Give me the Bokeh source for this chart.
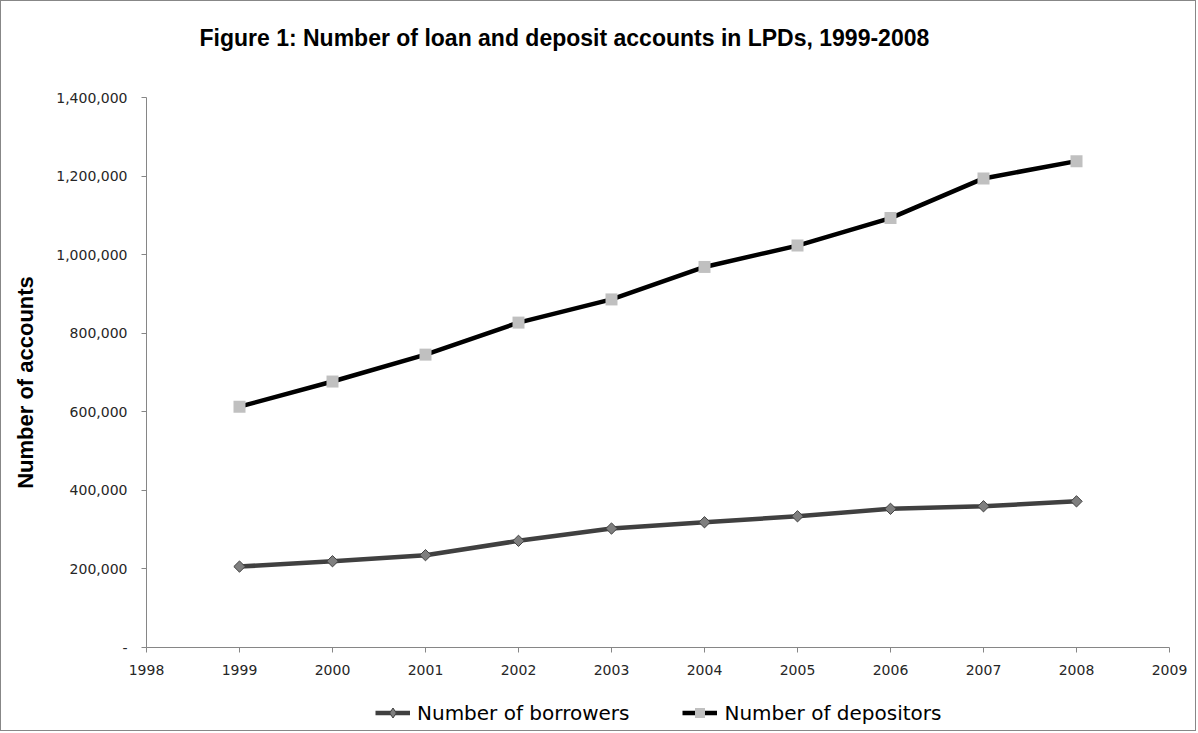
import math
from bokeh.plotting import figure
from bokeh.models import (FixedTicker, NumeralTickFormatter, Legend, LegendItem,
                          Label, ColumnDataSource, Range1d)
from bokeh.embed import file_html
from bokeh.resources import INLINE

# ---- data ----
years = [1999, 2000, 2001, 2002, 2003, 2004, 2005, 2006, 2007, 2008]
borrowers = [206000, 219600, 235000, 271500, 302800, 318800, 334000, 353000, 359500, 372000]
depositors = [613000, 677000, 745500, 827000, 886000, 968700, 1023000, 1093000, 1194000, 1238000]
x_ticks = [1998, 1999, 2000, 2001, 2002, 2003, 2004, 2005, 2006, 2007, 2008, 2009]
y_ticks = [0, 200000, 400000, 600000, 800000, 1000000, 1200000, 1400000]
series_names = ["Number of borrowers", "Number of depositors"]
title_text = "Figure 1: Number of loan and deposit accounts in LPDs, 1999-2008"
y_label = "Number of accounts"

# ---- layout (pixel geometry of the canvas) ----
W, H = 1196, 731
AX_L, AX_R, AX_T, AX_B = 145, 1168, 96, 646   # plot-area box in canvas pixels
x0, x1 = x_ticks[0], x_ticks[-1]
y0, y1 = y_ticks[0], y_ticks[-1]
px_x = (AX_R - AX_L) / (x1 - x0)
px_y = (AX_B - AX_T) / (y1 - y0)

def dx(sx):
    return x0 + (sx - AX_L) / px_x

def dy(sy):
    return y0 + (AX_B - sy) / px_y

src = ColumnDataSource(dict(year=years, borrowers=borrowers, depositors=depositors))

p = figure(width=W, height=H, output_backend="svg", toolbar_location=None,
           x_range=Range1d(dx(0), dx(W)), y_range=Range1d(dy(H), dy(0)),
           min_border_left=0, min_border_right=0, min_border_top=0, min_border_bottom=0)
p.styles = {"border": "1px solid #878787"}
p.outline_line_color = None
p.xgrid.visible = False
p.ygrid.visible = False
p.background_fill_color = "white"
p.border_fill_color = "white"

for ax in (p.xaxis[0], p.yaxis[0]):
    ax.axis_line_color = "#868686"
    ax.major_tick_line_color = "#868686"
    ax.major_tick_out = 5
    ax.major_tick_in = 0
    ax.minor_tick_line_color = None
    ax.major_label_text_font = "DejaVu Sans"
    ax.major_label_text_font_size = "14px"
    ax.major_label_text_color = "#262626"

p.xaxis.fixed_location = y0
p.xaxis.bounds = (x0, x1)
p.xaxis.ticker = FixedTicker(ticks=x_ticks)
p.xaxis.major_label_standoff = 12
p.yaxis.fixed_location = x0
p.yaxis.bounds = (y0, y1)
p.yaxis.ticker = FixedTicker(ticks=y_ticks)
p.yaxis.formatter = NumeralTickFormatter(format="0,0")
p.yaxis.major_label_overrides = {0: "-"}
p.yaxis.major_label_standoff = 14

lb = p.line("year", "borrowers", source=src, line_color="#404040", line_width=4.5)
# plain diamond glyph (used for the legend key), hidden beneath the rotated-square markers
sb_key = p.scatter("year", "borrowers", source=src, marker="diamond", size=8,
                   fill_color="#7f7f7f", line_color="#404040", line_width=1)
sb = p.scatter("year", "borrowers", source=src, marker="square", angle=math.pi / 4, size=8,
               fill_color="#7f7f7f", line_color="#404040", line_width=1)
ld = p.line("year", "depositors", source=src, line_color="black", line_width=4.5)
sd = p.scatter("year", "depositors", source=src, marker="square", size=12,
               fill_color="#c0c0c0", line_color="#c0c0c0", line_width=0)

legend = Legend(items=[LegendItem(label=series_names[0], renderers=[lb, sb_key]),
                       LegendItem(label=series_names[1], renderers=[ld, sd])],
                orientation="horizontal", location=(374, 7),
                border_line_color=None, background_fill_alpha=0,
                label_text_font="DejaVu Sans", label_text_font_size="20px",
                label_text_color="black",
                glyph_width=35, glyph_height=25, label_standoff=7, spacing=53,
                padding=0, margin=0)
p.add_layout(legend)

p.add_layout(Label(x=dx(198), y=dy(36), text=title_text, text_font="Liberation Sans",
                   text_font_style="bold", text_font_size="23px", text_color="black",
                   text_baseline="middle", text_align="left"))
p.add_layout(Label(x=dx(24), y=dy(381), text=y_label, text_font="Liberation Sans",
                   text_font_style="bold", text_font_size="22px", text_color="black",
                   angle=math.pi / 2, text_baseline="middle", text_align="center"))

open("out.html", "w").write(file_html(p, INLINE))
